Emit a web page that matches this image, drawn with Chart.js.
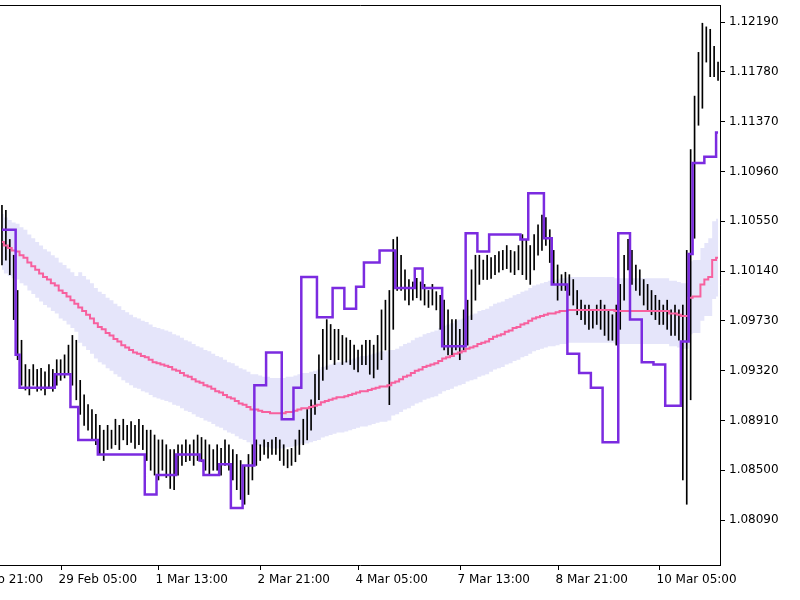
<!DOCTYPE html>
<html><head><meta charset="utf-8">
<script src="https://cdn.jsdelivr.net/npm/chart.js@4"></script>
<style>html,body{margin:0;padding:0;background:#fff}</style>
</head><body><canvas id="c" width="800" height="600" style="width:800px;height:600px"></canvas>
<script>
const highs=[1.1068,1.1064,1.1040,1.1027,1.0998,1.0957,1.0937,1.0933,1.0937,1.0933,
1.0934,1.0931,1.0937,1.0933,1.0941,1.0941,1.0945,1.0953,1.0961,1.0957,
1.0924,1.0912,1.0904,1.0900,1.0896,1.0887,1.0883,1.0887,1.0883,1.0892,
1.0887,1.0892,1.0887,1.0890,1.0887,1.0892,1.0887,1.0883,1.0883,1.0879,
1.0875,1.0875,1.0871,1.0867,1.0867,1.0871,1.0871,1.0875,1.0871,1.0875,
1.0879,1.0877,1.0875,1.0871,1.0867,1.0871,1.0868,1.0875,1.0871,1.0867,
1.0863,1.0858,1.0854,1.0863,1.0871,1.0875,1.0871,1.0875,1.0873,1.0875,
1.0877,1.0875,1.0871,1.0867,1.0868,1.0875,1.0883,1.0892,1.0900,1.0908,
1.0929,1.0945,1.0966,1.0974,1.0970,1.0966,1.0966,1.0961,1.0959,1.0957,
1.0953,1.0949,1.0953,1.0957,1.0957,1.0953,1.0961,1.0982,1.0990,1.0998,
1.1040,1.1042,1.1027,1.1015,1.1007,1.1005,1.1008,1.1005,1.1003,1.0998,
1.1003,1.0997,1.0994,1.0990,1.0982,1.0974,1.0974,1.0966,1.0982,1.0990,
1.1015,1.1027,1.1027,1.1023,1.1027,1.1025,1.1027,1.1030,1.1031,1.1035,
1.1031,1.1030,1.1035,1.1044,1.1040,1.1035,1.1044,1.1052,1.1060,1.1058,
1.1048,1.1031,1.1019,1.1011,1.1013,1.1011,1.1007,1.0998,1.0990,1.0986,
1.0986,1.0982,1.0986,1.0990,1.0986,1.0982,1.0978,1.0986,1.1003,1.1027,
1.1040,1.1031,1.1019,1.1015,1.1007,1.1003,1.0998,1.0994,1.0990,1.0986,
1.0990,1.0982,1.0986,1.0982,1.0986,1.1031,1.1114,1.1158,1.1194,1.1218,
1.1215,1.1213,1.1199,1.1186];
const lows=[1.1019,1.1023,1.1011,1.0974,1.0941,1.0920,1.0916,1.0912,1.0920,1.0915,
1.0916,1.0912,1.0918,1.0915,1.0920,1.0924,1.0926,1.0929,1.0920,1.0908,
1.0896,1.0887,1.0883,1.0875,1.0871,1.0863,1.0858,1.0867,1.0868,1.0871,
1.0867,1.0875,1.0871,1.0873,1.0868,1.0871,1.0867,1.0858,1.0850,1.0846,
1.0842,1.0850,1.0844,1.0835,1.0834,1.0846,1.0854,1.0857,1.0858,1.0854,
1.0858,1.0857,1.0850,1.0846,1.0850,1.0850,1.0846,1.0854,1.0850,1.0842,
1.0834,1.0826,1.0822,1.0830,1.0842,1.0854,1.0858,1.0863,1.0860,1.0863,
1.0863,1.0858,1.0854,1.0852,1.0854,1.0857,1.0863,1.0871,1.0875,1.0883,
1.0896,1.0908,1.0924,1.0933,1.0941,1.0937,1.0941,1.0937,1.0939,1.0937,
1.0933,1.0931,1.0937,1.0937,1.0929,1.0926,1.0933,1.0941,1.0949,1.0904,
1.0966,1.0998,1.0998,1.0990,1.0986,1.0990,1.0992,1.0990,1.0986,1.0984,
1.0986,1.0982,1.0966,1.0949,1.0945,1.0945,1.0949,1.0941,1.0949,1.0953,
1.0974,1.0990,1.1003,1.1007,1.1007,1.1008,1.1011,1.1013,1.1015,1.1016,
1.1013,1.1011,1.1015,1.1011,1.1007,1.1003,1.1015,1.1027,1.1031,1.1035,
1.1021,1.1003,1.0990,1.0998,1.0998,1.0994,1.0986,1.0978,1.0974,1.0970,
1.0966,1.0967,1.0970,1.0966,1.0961,1.0957,1.0957,1.0953,1.0966,1.0990,
1.1015,1.1003,1.0998,1.0994,1.0986,1.0982,1.0978,1.0974,1.0970,1.0970,
1.0966,1.0961,1.0961,1.0957,1.0842,1.0822,1.0908,1.1041,1.1134,1.1148,
1.1186,1.1174,1.1174,1.1171];
const stepLine=[1.1048,1.1048,1.1048,1.1048,1.0945,1.0918,1.0918,1.0918,1.0918,1.0918,
1.0918,1.0918,1.0918,1.0918,1.0929,1.0929,1.0929,1.0929,1.0902,1.0902,
1.0875,1.0875,1.0875,1.0875,1.0875,1.0863,1.0863,1.0863,1.0863,1.0863,
1.0863,1.0863,1.0863,1.0863,1.0863,1.0863,1.0863,1.0830,1.0830,1.0830,
1.0846,1.0846,1.0846,1.0846,1.0846,1.0863,1.0863,1.0863,1.0863,1.0863,
1.0863,1.0858,1.0846,1.0846,1.0846,1.0846,1.0855,1.0855,1.0855,1.0819,
1.0819,1.0819,1.0854,1.0854,1.0854,1.0920,1.0920,1.0920,1.0947,1.0947,
1.0947,1.0947,1.0892,1.0892,1.0892,1.0918,1.0918,1.1009,1.1009,1.1009,
1.1009,1.0976,1.0976,1.0976,1.0976,1.1000,1.1000,1.1000,1.0983,1.0983,
1.0983,1.1001,1.1001,1.1021,1.1021,1.1021,1.1021,1.1031,1.1031,1.1031,
1.1031,1.1000,1.1000,1.1000,1.1000,1.1000,1.1016,1.1016,1.1000,1.1000,
1.1000,1.1000,1.1000,1.0952,1.0952,1.0952,1.0952,1.0952,1.0952,1.1045,
1.1045,1.1045,1.1030,1.1030,1.1030,1.1044,1.1044,1.1044,1.1044,1.1044,
1.1044,1.1044,1.1044,1.1040,1.1040,1.1078,1.1078,1.1078,1.1078,1.1041,
1.1041,1.1003,1.1003,1.1003,1.1003,1.0946,1.0946,1.0946,1.0930,1.0930,
1.0930,1.0918,1.0918,1.0918,1.0873,1.0873,1.0873,1.0873,1.1045,1.1045,
1.1045,1.0974,1.0974,1.0974,1.0939,1.0939,1.0939,1.0937,1.0937,1.0937,
1.0903,1.0903,1.0903,1.0903,1.0956,1.0956,1.1028,1.1103,1.1103,1.1103,
1.1108,1.1108,1.1108,1.1128];
const maLine=[1.1038,1.1035,1.1033,1.1031,1.1030,1.1027,1.1025,1.1021,
1.1018,1.1015,1.1012,1.1009,1.1007,
1.1004,1.1002,1.0998,1.0996,1.0993,1.0990,1.0987,
1.0984,1.0981,1.0978,1.0975,1.0971,1.0968,
1.0966,1.0963,1.0961,1.0958,1.0956,1.0953,1.0951,1.0949,
1.0947,1.0946,1.0944,1.0943,1.0941,1.0939,1.0938,1.0937,1.0936,1.0935,
1.0933,1.0932,1.0930,1.0928,1.0927,1.0925,1.0923,1.0922,
1.0920,1.0919,1.0917,1.0915,1.0914,1.0912,1.0910,1.0909,
1.0907,1.0905,1.0904,1.0902,1.0900,1.0900,1.0899,
1.0898,1.0898,1.0897,1.0897,1.0897,1.0897,1.0898,1.0898,1.0899,1.0900,
1.0901,1.0901,1.0902,1.0903,1.0904,1.0906,1.0907,1.0908,
1.0909,1.0910,1.0910,1.0911,1.0912,1.0913,1.0914,1.0915,
1.0915,1.0916,1.0917,1.0918,1.0919,1.0919,1.0920,
1.0922,1.0923,1.0925,1.0927,1.0928,1.0930,1.0932,
1.0933,1.0935,1.0936,1.0937,1.0938,1.0940,1.0942,1.0943,
1.0944,1.0946,1.0947,1.0948,1.0950,1.0951,1.0952,1.0954,
1.0955,1.0956,1.0958,1.0960,1.0961,1.0962,1.0964,1.0965,
1.0967,1.0968,1.0970,1.0971,1.0973,1.0975,1.0976,1.0977,
1.0978,1.0979,1.0979,1.0980,1.0981,1.0981,1.0982,1.0982,
1.0982,1.0982,1.0982,1.0982,1.0982,1.0982,1.0982,1.0982,1.0982,1.0982,
1.0981,1.0981,1.0981,1.0981,1.0981,1.0981,1.0981,1.0981,1.0981,1.0981,1.0981,1.0981,1.0981,1.0981,
1.0979,1.0979,1.0978,1.0977,1.0977,
1.0992,1.0993,1.0993,1.1003,1.1007,1.1009,1.1023,1.1025];
const bandHalf=[0.0023,0.0023,0.0023,0.0023,0.0023,0.0023,0.0023,0.0023,0.0023,0.0023,
0.0023,0.0023,0.0023,0.0023,0.0023,0.0023,0.0023,0.0023,0.0023,0.0023,
0.0029,0.0029,0.0029,0.0029,0.0029,0.0029,0.0029,0.0029,0.0029,0.0029,
0.0029,0.0029,0.0029,0.0029,0.0029,0.0029,0.0029,0.0029,0.0029,0.0029,
0.0029,0.0029,0.0029,0.0029,0.0029,0.0029,0.0029,0.0029,0.0029,0.0029,
0.0029,0.0029,0.0029,0.0029,0.0029,0.0029,0.0029,0.0029,0.0029,0.0029,
0.0029,0.0029,0.0029,0.0029,0.0029,0.0029,0.0029,0.0029,0.0029,0.0029,
0.0029,0.0029,0.0029,0.0029,0.0029,0.0029,0.0029,0.0029,0.0029,0.0029,
0.0029,0.0029,0.0029,0.0029,0.0029,0.0029,0.0029,0.0029,0.0029,0.0029,
0.0029,0.0029,0.0029,0.0029,0.0029,0.0029,0.0029,0.0029,0.0029,0.0029,
0.0027,0.0027,0.0027,0.0027,0.0027,0.0027,0.0027,0.0027,0.0027,0.0027,
0.0027,0.0027,0.0027,0.0027,0.0027,0.0027,0.0027,0.0027,0.0027,0.0027,
0.0027,0.0027,0.0027,0.0027,0.0027,0.0027,0.0027,0.0027,0.0027,0.0027,
0.0027,0.0027,0.0027,0.0027,0.0027,0.0027,0.0027,0.0027,0.0027,0.0027,
0.0027,0.0027,0.0027,0.0027,0.0027,0.0027,0.0027,0.0027,0.0027,0.0027,
0.0027,0.0027,0.0027,0.0027,0.0027,0.0027,0.0027,0.0027,0.0027,0.0027,
0.0027,0.0027,0.0027,0.0027,0.0027,0.0027,0.0027,0.0027,0.0027,0.0027,
0.0027,0.0027,0.0027,0.0027,0.0027,0.0027,0.0030,0.0030,0.0030,0.0030,
0.0030,0.0032,0.0032,0.0032];
const yTicks=[1.08090,1.08500,1.08910,1.09320,1.09730,1.10140,1.10550,1.10960,1.11370,1.11780,1.12190];
const xTickLabels=['28 Feb 21:00','29 Feb 05:00','1 Mar 13:00','2 Mar 21:00','4 Mar 05:00','7 Mar 13:00','8 Mar 21:00','10 Mar 05:00'];
const xTickIndex=[-9,15,40,66,91,117,142,168];

const cats=highs.map((_,i)=>i);
const upper=maLine.map((v,i)=>v+bandHalf[i]);
const lower=maLine.map((v,i)=>v-bandHalf[i]);
const FONT='"DejaVu Sans", Tahoma, sans-serif';

const frame={id:'frame',afterDraw(ch){
  const a=ch.chartArea,c=ch.ctx,xs=ch.scales.x;
  c.save();c.strokeStyle='#000';c.lineWidth=1;
  c.beginPath();c.moveTo(0,a.top+0.5);c.lineTo(a.right+0.5,a.top+0.5);c.lineTo(a.right+0.5,a.bottom+0.5);c.lineTo(0,a.bottom+0.5);c.stroke();
  c.font='12px '+FONT;c.fillStyle='#000';c.textBaseline='top';c.textAlign='left';
  xTickIndex.forEach((idx,k)=>{const x=Math.round(xs.getPixelForValue(idx))+0.5;
    c.beginPath();c.moveTo(x,a.bottom);c.lineTo(x,a.bottom+5);c.stroke();
    c.fillText(xTickLabels[k],x-3,a.bottom+9);});
  c.restore();}};

new Chart(document.getElementById('c'),{
  type:'bar',
  data:{labels:cats,datasets:[
    {type:'line',data:upper,borderWidth:0,pointRadius:0,stepped:'middle',fill:'+1',backgroundColor:'rgba(226,226,250,0.9)',order:5},
    {type:'line',data:lower,borderWidth:0,pointRadius:0,stepped:'middle',fill:false,order:5},
    {type:'bar',data:highs.map((h,i)=>[lows[i],h]),backgroundColor:'#000',barThickness:1,borderSkipped:false,order:3},
    {type:'line',data:maLine,borderColor:'#f7609e',borderWidth:2,pointRadius:0,stepped:'middle',order:2},
    {type:'line',data:stepLine,borderColor:'#7b2be0',borderWidth:2.5,pointRadius:0,stepped:'middle',order:1}
  ]},
  options:{responsive:false,animation:false,devicePixelRatio:1,
    layout:{padding:{top:0,left:0,right:0,bottom:0}},
    plugins:{legend:{display:false},tooltip:{enabled:false}},
    scales:{
      x:{grid:{display:false},border:{display:false},ticks:{display:false},
         afterFit(s){s.height=35;s.paddingLeft=0;s.paddingRight=0;}},
      y:{position:'right',min:1.0772,max:1.1233,
         afterBuildTicks(s){s.ticks=yTicks.map(v=>({value:v}));},
         afterFit(s){s.width=80;s.paddingTop=5;s.paddingBottom=0;},
         grid:{drawOnChartArea:false,drawTicks:true,tickLength:5,color:'#000'},
         border:{display:true,color:'#000'},
         ticks:{color:'#000',font:{family:FONT,size:12},padding:4,callback:v=>v.toFixed(5)}}
    }},
  plugins:[frame]
});
</script></body></html>
